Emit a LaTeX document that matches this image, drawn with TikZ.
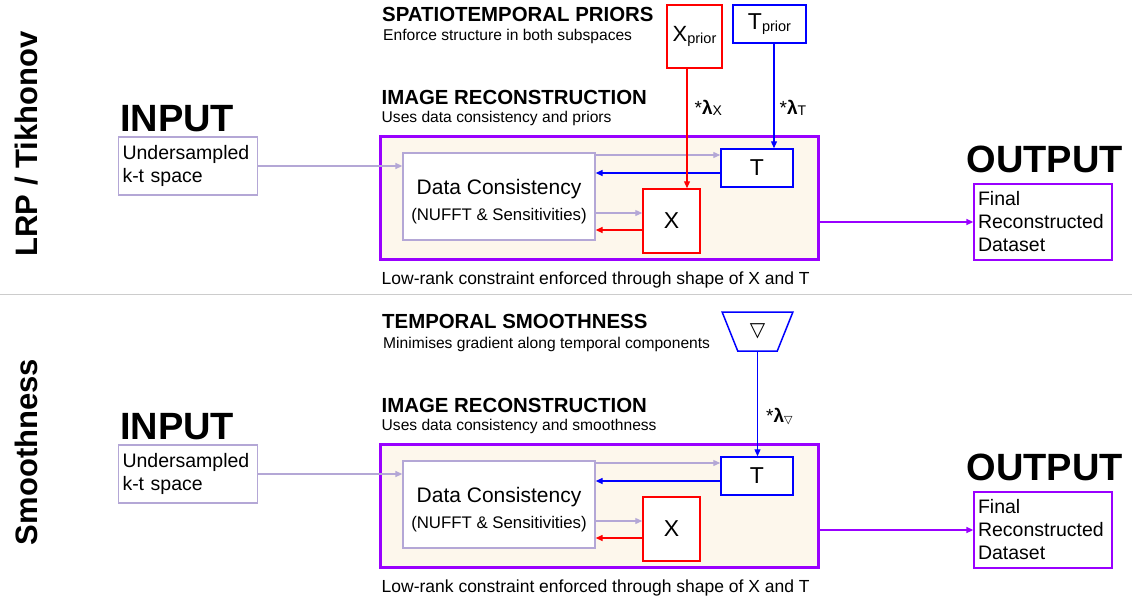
\documentclass[tikz,border=0pt]{standalone}
\usepackage{fontspec}
\setmainfont{Liberation Sans}
\newfontfamily\symfont{DejaVu Sans}
\usepackage{xcolor}
\usepackage{tikz}
\usetikzlibrary{shapes,arrows,arrows.meta,positioning,calc}

\definecolor{recpurple}{RGB}{153,0,255}
\definecolor{palepurple}{RGB}{180,167,214}
\definecolor{creamfill}{RGB}{253,247,236}
\definecolor{priorred}{RGB}{255,0,0}
\definecolor{priorblue}{RGB}{0,0,255}

\begin{document}
\begin{tikzpicture}[
    x=1pt, y=-1pt,
    sidelabel/.style={rotate=90, anchor=base, inner sep=0pt, font=\fontsize{31}{31}\selectfont\bfseries},
    bigtitle/.style={anchor=base west, inner sep=0pt, font=\fontsize{38}{38}\selectfont\bfseries},
    sectitle/.style={anchor=base west, inner sep=0pt, font=\fontsize{20.4}{20}\selectfont\bfseries},
    secsub/.style={anchor=base west, inner sep=0pt, font=\fontsize{15.6}{15.6}\selectfont},
    secnote/.style={anchor=base west, inner sep=0pt, font=\fontsize{17.5}{17.5}\selectfont},
    iobox/.style={rectangle, draw=palepurple, line width=1.3pt, fill=white, align=left, text width=131pt, inner xsep=4pt, inner ysep=3pt, minimum height=58pt, font=\fontsize{19.5}{23}\selectfont},
    recbox/.style={rectangle, draw=recpurple, line width=3pt, fill=creamfill, minimum width=438pt, minimum height=123pt, inner sep=0pt},
    dcbox/.style={rectangle, draw=palepurple, line width=1.3pt, fill=white, align=center, minimum width=192pt, minimum height=87pt, inner sep=0pt, font=\fontsize{21}{26}\selectfont},
    tblock/.style={rectangle, draw=priorblue, line width=1.5pt, fill=white, minimum width=72pt, minimum height=38pt, inner sep=0pt, font=\fontsize{23}{23}\selectfont},
    xblock/.style={rectangle, draw=priorred, line width=1.5pt, fill=white, minimum width=57pt, minimum height=64pt, inner sep=0pt, font=\fontsize{23}{23}\selectfont},
    gradbox/.style={trapezium, draw=priorblue, line width=1.5pt, fill=white, shape border rotate=180, trapezium angle=69, trapezium stretches=true, minimum width=71pt, minimum height=39pt, inner sep=0pt},
    lamlabel/.style={inner sep=0pt, font=\fontsize{19}{19}\selectfont},
    feed/.style={->, >={Triangle[length=7pt,width=6pt]}, draw=palepurple, line width=1.3pt},
    tarrow/.style={->, >={Triangle[length=7pt,width=6pt]}, draw=priorblue, line width=1.3pt},
    xarrow/.style={->, >={Triangle[length=7pt,width=6pt]}, draw=priorred, line width=1.3pt},
    outarrow/.style={->, >={Triangle[length=7pt,width=6pt]}, draw=recpurple, line width=1.3pt},
    sepline/.style={draw=black!20, line width=1pt}
]
\useasboundingbox (0,0) rectangle (1132,600);

% LRP / Tikhonov
\node[sidelabel] (lrplab) at (37,144) {LRP / Tikhonov};
\node[iobox] (inbox) at (188,166) {Undersampled\\k-t space};
\node[bigtitle] (intitle) at ([xshift=2pt,yshift=5pt]inbox.north west) {INPUT};

\node[recbox] (recon) at (599,197.5) {};
\node[sectitle] (rectitle) at ([xshift=3pt,yshift=30pt]recon.north west) {IMAGE RECONSTRUCTION};
\node[secsub] (recsub) at ([yshift=-18pt]rectitle.base west) {Uses data consistency and priors};
\node[secnote] (recnote) at ([xshift=3pt,yshift=-24pt]recon.south west) {Low-rank constraint enforced through shape of X and T};

\node[dcbox] (dc) at (499,196.5) {\rule{0pt}{25pt}Data Consistency\\{\fontsize{16.8}{20}\selectfont(NUFFT \& Sensitivities)}};
\node[tblock] (tbox) at (757,168) {T};
\node[xblock] (xbox) at (671.5,221) {X};

% priors
\node[sectitle] (pritit) at (382,21) {SPATIOTEMPORAL PRIORS};
\node[secsub] (prisub) at ([xshift=1pt,yshift=-19pt]pritit.base west) {Enforce structure in both subspaces};
\node[xblock, minimum width=55pt, minimum height=63pt, font=\fontsize{22}{22}\selectfont] (xprior) at (694.5,36.5) {X\raisebox{-2pt}{\fontsize{14.5}{14.5}\selectfont prior}};
\node[tblock, minimum width=73pt, font=\fontsize{23}{23}\selectfont] (tprior) at (769.5,24) {T\raisebox{-2pt}{\fontsize{14.5}{14.5}\selectfont prior}};

\node[iobox, draw=recpurple, text width=130pt, minimum height=76pt] (outbox) at (1043,222) {Final\\Reconstructed\\Dataset};
\node[bigtitle] (outtitle) at ([xshift=-7pt,yshift=11pt]outbox.north west) {OUTPUT};

\draw[feed] (inbox.east) -- (inbox.east -| dc.west);
\draw[feed] ([yshift=13pt]tbox.west -| dc.east) -- ([yshift=13pt]tbox.west);
\draw[tarrow] ([yshift=-5pt]tbox.west) -- ([yshift=-5pt]tbox.west -| dc.east);
\draw[feed] ([yshift=8pt]xbox.west -| dc.east) -- ([yshift=8pt]xbox.west);
\draw[xarrow] ([yshift=-9pt]xbox.west) -- ([yshift=-9pt]xbox.west -| dc.east);
\draw[xarrow] ([xshift=-7.5pt]xprior.south) -- ([xshift=-7.5pt]xprior.south |- xbox.north)
    node[lamlabel, pos=0.33, right=7pt] {*\textbf{λ}\raisebox{-1pt}{\fontsize{14}{14}\selectfont X}};
\draw[tarrow] ([xshift=4.5pt]tprior.south) -- ([xshift=4.5pt]tprior.south |- tbox.north)
    node[lamlabel, pos=0.61, right=5pt] {*\textbf{λ}\raisebox{-1pt}{\fontsize{14}{14}\selectfont T}};
\draw[outarrow] (outbox.west -| recon.east) -- (outbox.west);

\draw[sepline] (0,294) -- (1132,294);

% Smoothness
\node[sidelabel] (smolab) at (37,452) {Smoothness};
\node[iobox] (inbox2) at (188,474) {Undersampled\\k-t space};
\node[bigtitle] (intitle2) at ([xshift=2pt,yshift=5pt]inbox2.north west) {INPUT};

\node[recbox] (recon2) at (599,505.5) {};
\node[sectitle] (rectitle2) at ([xshift=3pt,yshift=30pt]recon2.north west) {IMAGE RECONSTRUCTION};
\node[secsub] (recsub2) at ([yshift=-18pt]rectitle2.base west) {Uses data consistency and smoothness};
\node[secnote] (recnote2) at ([xshift=3pt,yshift=-24pt]recon2.south west) {Low-rank constraint enforced through shape of X and T};

\node[dcbox] (dc2) at (499,504.5) {\rule{0pt}{25pt}Data Consistency\\{\fontsize{16.8}{20}\selectfont(NUFFT \& Sensitivities)}};
\node[tblock] (tbox2) at (757,476) {T};
\node[xblock] (xbox2) at (671.5,529) {X};

% temporal smoothness prior
\node[sectitle] (smotit) at (382,328) {TEMPORAL SMOOTHNESS};
\node[secsub] (smosub) at ([xshift=1pt,yshift=-20pt]smotit.base west) {Minimises gradient along temporal components};
\node[gradbox] (grad) at (757.5,331.5) {\raisebox{3pt}{\symfont\fontsize{20}{20}\selectfont ▽}};

\node[iobox, draw=recpurple, text width=130pt, minimum height=76pt] (outbox2) at (1043,530) {Final\\Reconstructed\\Dataset};
\node[bigtitle] (outtitle2) at ([xshift=-7pt,yshift=11pt]outbox2.north west) {OUTPUT};

\draw[feed] (inbox2.east) -- (inbox2.east -| dc2.west);
\draw[feed] ([yshift=13pt]tbox2.west -| dc2.east) -- ([yshift=13pt]tbox2.west);
\draw[tarrow] ([yshift=-5pt]tbox2.west) -- ([yshift=-5pt]tbox2.west -| dc2.east);
\draw[feed] ([yshift=8pt]xbox2.west -| dc2.east) -- ([yshift=8pt]xbox2.west);
\draw[xarrow] ([yshift=-9pt]xbox2.west) -- ([yshift=-9pt]xbox2.west -| dc2.east);
\draw[tarrow] (grad.south) -- (grad.south |- tbox2.north)
    node[lamlabel, pos=0.62, right=8pt] {*\textbf{λ}\raisebox{-1pt}{\symfont\fontsize{11}{11}\selectfont ▽}};
\draw[outarrow] (outbox2.west -| recon2.east) -- (outbox2.west);

\end{tikzpicture}
\end{document}
